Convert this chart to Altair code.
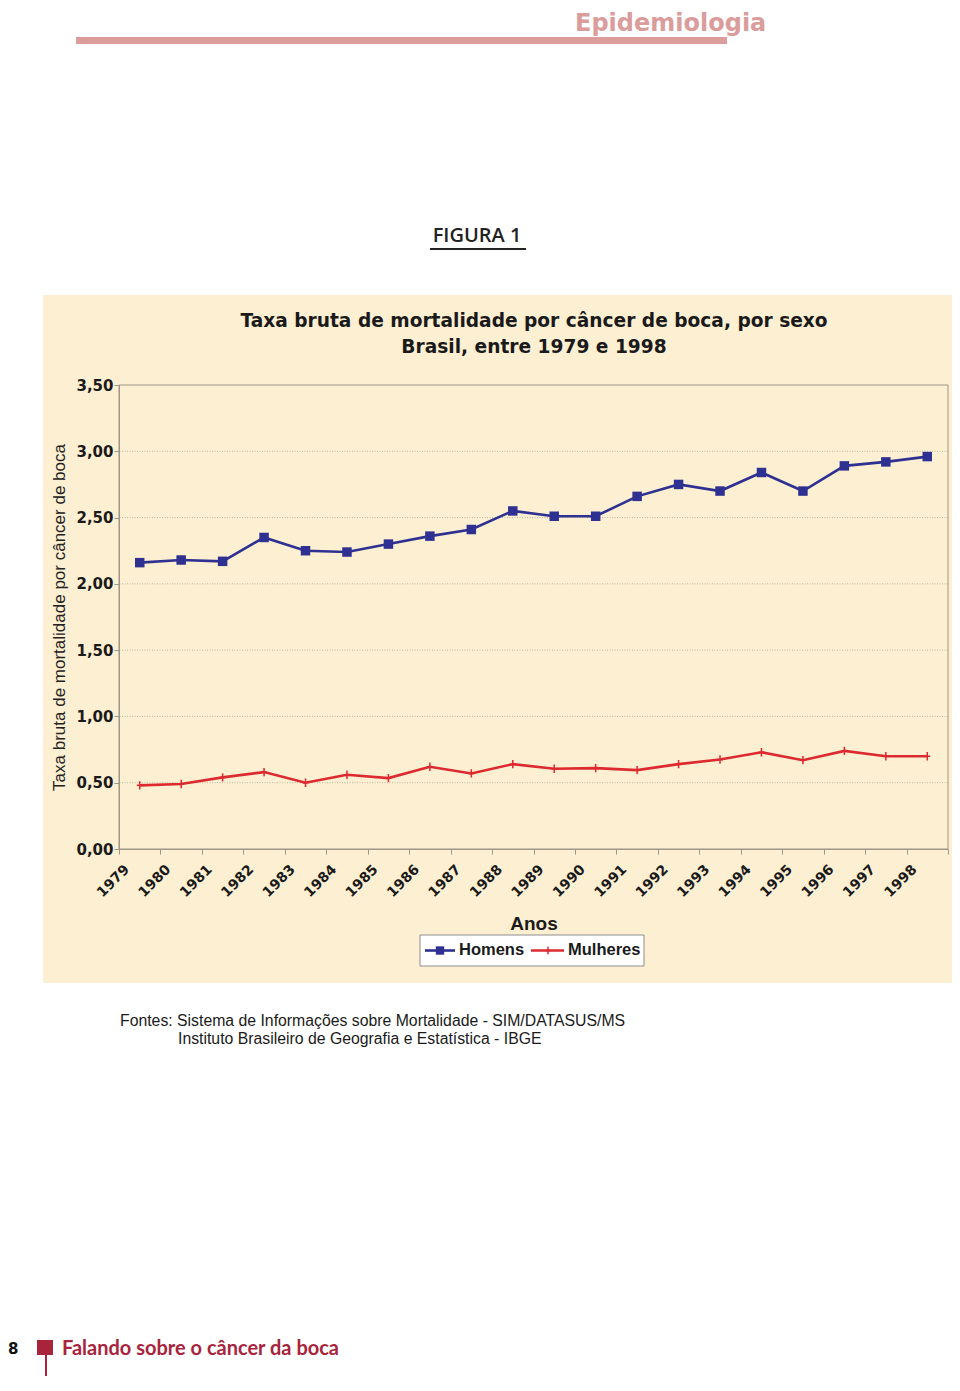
import altair as alt
import pandas as pd

# ---- data ----
anos = ["1979", "1980", "1981", "1982", "1983", "1984", "1985", "1986", "1987", "1988",
        "1989", "1990", "1991", "1992", "1993", "1994", "1995", "1996", "1997", "1998"]
homens = [2.16, 2.18, 2.17, 2.35, 2.25, 2.24, 2.30, 2.36, 2.41, 2.55,
          2.51, 2.51, 2.66, 2.75, 2.70, 2.84, 2.70, 2.89, 2.92, 2.96]
mulheres = [0.48, 0.49, 0.54, 0.58, 0.50, 0.56, 0.535, 0.62, 0.57, 0.64,
            0.605, 0.61, 0.595, 0.64, 0.675, 0.73, 0.67, 0.74, 0.70, 0.70]
y_ticks = [0.0, 0.5, 1.0, 1.5, 2.0, 2.5, 3.0, 3.5]
grid_vals = [0.5, 1.0, 1.5, 2.0, 2.5, 3.0]
series = ["Homens", "Mulheres"]
colors = ["#2E3192", "#DC2A30"]

W, H = 829, 464
BEIGE = "#FDEFD2"
AXC = "#9C9788"

df_h = pd.DataFrame({"ano": anos, "taxa": homens, "sexo": series[0]})
df_m = pd.DataFrame({"ano": anos, "taxa": mulheres, "sexo": series[1]})
df_grid = pd.DataFrame({"taxa": grid_vals})
one = pd.DataFrame({"k": [0]})

xenc = alt.X(
    "ano:O",
    sort=anos,
    bandPosition=0.5,
    scale=alt.Scale(type="band", paddingInner=0, paddingOuter=0),
    axis=alt.Axis(
        labelAngle=-45, labelAlign="right", labelBaseline="middle",
        labelFont="DejaVu Sans", labelFontWeight="bold", labelFontSize=14,
        labelColor="#1a1a1a", labelOffset=-13, labelPadding=13, labelOverlap=False,
        tickSize=5, tickBand="extent", tickColor=AXC, domainColor=AXC,
        grid=False, title="Anos", titleFont="Liberation Sans", titleFontSize=19,
        titleFontWeight="bold", titleColor="#1a1a1a", titlePadding=15, zindex=1,
    ),
)
yaxis = alt.Axis(
    values=y_ticks,
    labelExpr="replace(format(datum.value, '.2f'), '.', ',')",
    labelFont="DejaVu Sans", labelFontWeight="bold", labelFontSize=15,
    labelColor="#1a1a1a", labelPadding=1, tickSize=5, tickColor=AXC,
    domainColor=AXC, grid=False,
    title="Taxa bruta de mortalidade por câncer de boca",
    titleFont="Liberation Sans", titleFontSize=17, titleFontWeight="normal",
    titleColor="#222222", titlePadding=7, zindex=1,
)
yscale = alt.Scale(domain=[0, 3.5], nice=False, zero=True)
yenc = alt.Y("taxa:Q", scale=yscale, axis=yaxis)
color = alt.Color("sexo:N", scale=alt.Scale(domain=series, range=colors), legend=None)

def deco():
    return alt.Chart(one)

# beige panel
panel = deco().mark_rect(fill=BEIGE).encode(
    x=alt.value(-76), x2=alt.value(837), y=alt.value(-90), y2=alt.value(598))

# header
header_txt = deco().mark_text(
    text="Epidemiologia", font="DejaVu Sans", fontSize=24, fontWeight="bold",
    color="#DB9C9C", align="left", baseline="alphabetic"
).encode(x=alt.value(456), y=alt.value(-354.5))
header_bar = deco().mark_rect(fill="#DC9C9C").encode(
    x=alt.value(-43), x2=alt.value(608), y=alt.value(-348), y2=alt.value(-341))

figura = deco().mark_text(
    text="FIGURA 1", font="Open Sans", fontSize=20, fontWeight=600,
    color="#222222", align="center", baseline="middle"
).encode(x=alt.value(358), y=alt.value(-149))
figura_line = deco().mark_rule(color="#222222", strokeWidth=2).encode(
    x=alt.value(311), x2=alt.value(407), y=alt.value(-136))

title1 = deco().mark_text(
    text="Taxa bruta de mortalidade por câncer de boca, por sexo",
    font="DejaVu Sans", fontSize=18.6, fontWeight="bold", color="#1a1a1a",
    align="center", baseline="middle"
).encode(x=alt.value(415), y=alt.value(-64))
title2 = deco().mark_text(
    text="Brasil, entre 1979 e 1998",
    font="DejaVu Sans", fontSize=18.6, fontWeight="bold", color="#1a1a1a",
    align="center", baseline="middle"
).encode(x=alt.value(415), y=alt.value(-38))

# grid + frame
grid = alt.Chart(df_grid).mark_rule(color="#BDB5A0", strokeWidth=1, strokeDash=[1, 1.5]).encode(
    y=yenc)
frame = deco().mark_rect(fillOpacity=0, stroke=AXC, strokeWidth=1).encode(
    x=alt.value(0), x2=alt.value(W), y=alt.value(0), y2=alt.value(H))

# data
line_h = alt.Chart(df_h).mark_line(strokeWidth=2.6).encode(x=xenc, y=yenc, color=color)
pts_h = alt.Chart(df_h).mark_point(shape="square", filled=True, size=90, opacity=1).encode(
    x=xenc, y=yenc, color=color)
line_m = alt.Chart(df_m).mark_line(strokeWidth=2.6).encode(x=xenc, y=yenc, color=color)
pts_m = alt.Chart(df_m).mark_point(
    shape="M0,-1L0,1M-0.7,0L0.7,0", filled=False, size=70, strokeWidth=1.5, opacity=1
).encode(x=xenc, y=yenc, color=color)

# legend box
leg_box = deco().mark_rect(fill="white", stroke="#8E8E8E", strokeWidth=1).encode(
    x=alt.value(301), x2=alt.value(525), y=alt.value(550), y2=alt.value(581))
leg_l1 = deco().mark_rule(color=colors[0], strokeWidth=2.6).encode(
    x=alt.value(306), x2=alt.value(336), y=alt.value(565.5))
leg_p1 = deco().mark_point(shape="square", filled=True, size=70, color=colors[0], opacity=1).encode(
    x=alt.value(321), y=alt.value(565.5))
leg_t1 = deco().mark_text(text=series[0], font="Liberation Sans", fontSize=16.5,
                          fontWeight="bold", color="#1a1a1a", align="left",
                          baseline="middle").encode(x=alt.value(340), y=alt.value(565))
leg_l2 = deco().mark_rule(color=colors[1], strokeWidth=2.6).encode(
    x=alt.value(412), x2=alt.value(445), y=alt.value(565.5))
leg_p2 = deco().mark_point(shape="M0,-1L0,1M-0.7,0L0.7,0", filled=False, size=60,
                           strokeWidth=1.5, color=colors[1], opacity=1).encode(
    x=alt.value(429), y=alt.value(565.5))
leg_t2 = deco().mark_text(text=series[1], font="Liberation Sans", fontSize=16.5,
                          fontWeight="bold", color="#1a1a1a", align="left",
                          baseline="middle").encode(x=alt.value(449), y=alt.value(565))

# sources
fonte1 = deco().mark_text(
    text="Fontes: Sistema de Informações sobre Mortalidade - SIM/DATASUS/MS",
    font="Liberation Sans", fontSize=15.8, color="#1a1a1a", align="left", baseline="middle"
).encode(x=alt.value(1), y=alt.value(636))
fonte2 = deco().mark_text(
    text="Instituto Brasileiro de Geografia e Estatística - IBGE",
    font="Liberation Sans", fontSize=15.8, color="#1a1a1a", align="left", baseline="middle"
).encode(x=alt.value(59), y=alt.value(654))

# footer
page_num = deco().mark_text(text="8", font="DejaVu Sans", fontSize=15, fontWeight="bold",
                            color="#111111", align="left", baseline="middle").encode(
    x=alt.value(-111), y=alt.value(964))
foot_sq = deco().mark_rect(fill="#A8243C").encode(
    x=alt.value(-82), x2=alt.value(-66), y=alt.value(955), y2=alt.value(970))
foot_line = deco().mark_rule(color="#A8243C", strokeWidth=2).encode(
    x=alt.value(-73), y=alt.value(970), y2=alt.value(1000))
foot_txt = deco().mark_text(text="Falando sobre o câncer da boca", font="Lato", fontSize=20,
                            fontWeight="bold", color="#A8243C", align="left",
                            baseline="middle").encode(x=alt.value(-57), y=alt.value(964))

chart = alt.layer(
    panel, header_bar, header_txt, figura, figura_line, title1, title2,
    grid, frame, line_m, pts_m, line_h, pts_h,
    leg_box, leg_l1, leg_p1, leg_t1, leg_l2, leg_p2, leg_t2,
    fonte1, fonte2, page_num, foot_sq, foot_line, foot_txt,
).properties(
    width=W, height=H,
    autosize=alt.AutoSizeParams(type="none"),
    padding={"left": 111, "top": 377, "right": 4, "bottom": 527},
).configure(background="white").configure_view(stroke="transparent")

chart.save("out.html", embed_options={"renderer": "svg", "actions": False})
